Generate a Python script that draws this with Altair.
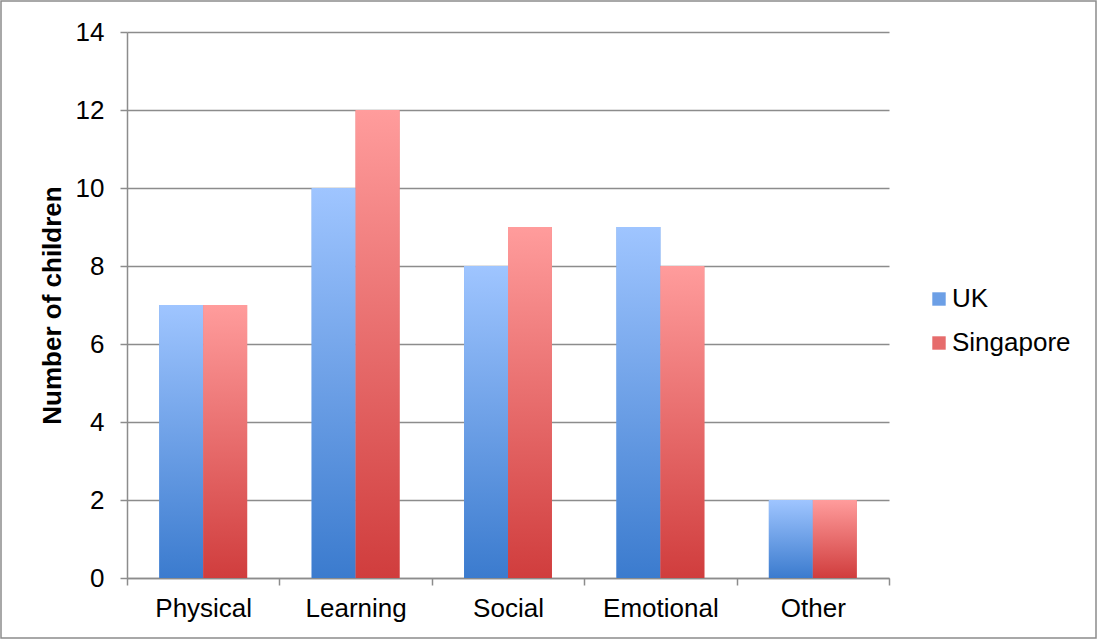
import altair as alt
import pandas as pd

# Areas of difficulty reported, by country
categories = ["Physical", "Learning", "Social", "Emotional", "Other"]
series = ["UK", "Singapore"]
uk_counts = [7, 10, 8, 9, 2]
singapore_counts = [7, 12, 9, 8, 2]
y_ticks = [0, 2, 4, 6, 8, 10, 12, 14]

rows = []
for cat, u, s in zip(categories, uk_counts, singapore_counts):
    rows.append({"category": cat, "country": "UK", "children": u})
    rows.append({"category": cat, "country": "Singapore", "children": s})
df = pd.DataFrame(rows)

FONT = "Liberation Sans"
GRID = "#8c8c8c"
FS = 26


def vgrad(top, bottom):
    return alt.Gradient(
        gradient="linear",
        stops=[alt.GradientStop(color=top, offset=0),
               alt.GradientStop(color=bottom, offset=1)],
        x1=0, x2=0, y1=0, y2=1,
    )


uk_fill = vgrad("#9fc5ff", "#3b7bce")
sg_fill = vgrad("#ff9c9c", "#d03d3d")

x_enc = alt.X(
    "category:N",
    sort=categories,
    scale=alt.Scale(paddingInner=0, paddingOuter=0),
    axis=alt.Axis(
        title=None, labelAngle=0, labelFontSize=FS, labelFont=FONT,
        labelColor="black", labelPadding=10, tickBand="extent",
        tickSize=7, tickColor=GRID, domainColor=GRID, domainWidth=1.5,
        tickWidth=1.5, grid=False,
    ),
)
xoff_enc = alt.XOffset(
    "country:N",
    scale=alt.Scale(domain=series, paddingInner=0, paddingOuter=0.734),
)
y_enc = alt.Y(
    "children:Q",
    scale=alt.Scale(domain=[0, 14], nice=False),
    axis=alt.Axis(
        title="Number of children", values=y_ticks, labelFontSize=FS,
        labelFont=FONT, labelColor="black", labelPadding=16,
        titleFont=FONT, titleFontSize=FS, titleFontWeight="bold",
        titleColor="black", titlePadding=10,
        tickSize=7, tickColor=GRID, tickWidth=1.5,
        domainColor=GRID, domainWidth=1.5,
        grid=True, gridColor=GRID, gridWidth=1.5,
    ),
)

base = alt.Chart(df).encode(x=x_enc, xOffset=xoff_enc, y=y_enc)

# solid bars carry the legend; gradient bars are drawn over them
solid = base.mark_bar().encode(
    color=alt.Color(
        "country:N",
        scale=alt.Scale(domain=series, range=["#6c9fe6", "#e66c6c"]),
        legend=alt.Legend(
            title=None, orient="none", legendX=799, legendY=254,
            symbolType="square", symbolSize=180, symbolStrokeWidth=0,
            labelFontSize=FS, labelFont=FONT, labelColor="black",
            labelOffset=0, rowPadding=18,
        ),
    )
)
uk_bars = base.transform_filter(alt.datum.country == "UK").mark_bar(fill=uk_fill)
sg_bars = base.transform_filter(alt.datum.country == "Singapore").mark_bar(fill=sg_fill)

frame = alt.Chart(pd.DataFrame({"a": [0]})).mark_rect(
    fillOpacity=0, stroke="#8c8c8c", strokeWidth=1.5
).encode(
    x=alt.value(-126), x2=alt.value(969), y=alt.value(-31), y2=alt.value(606)
)

chart = alt.layer(solid, uk_bars, sg_bars, frame).properties(
    width=762,
    height=546,
    autosize="none",
    padding={"left": 127, "top": 32, "right": 209, "bottom": 63},
    background="white",
).configure_view(stroke=None)

chart.save("out.html", embed_options={"renderer": "svg", "actions": False})
